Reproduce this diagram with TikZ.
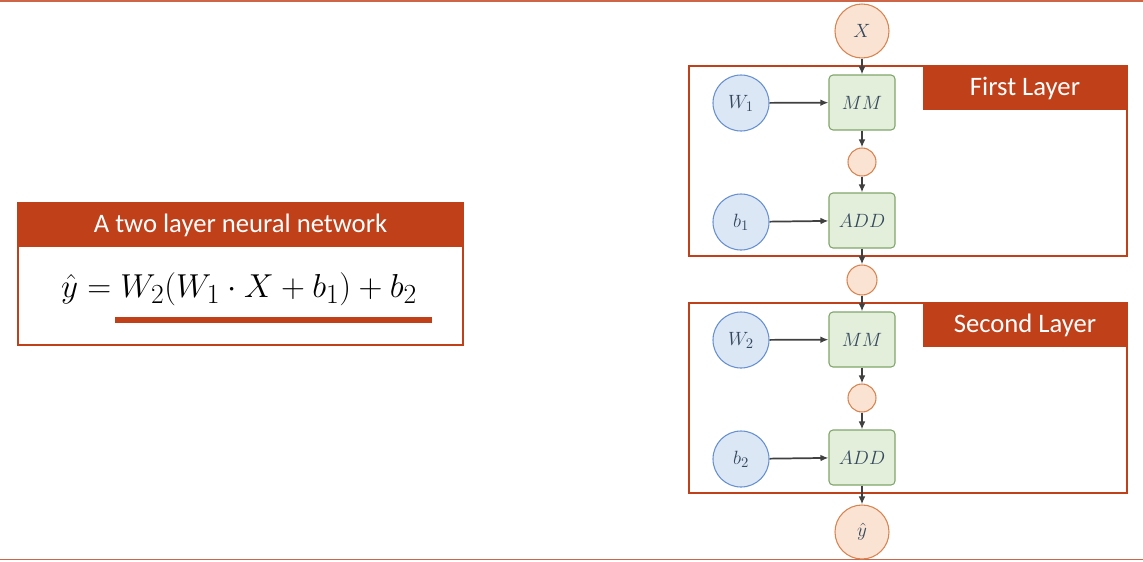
\documentclass[tikz,border=0pt]{standalone}
\usepackage{fontspec}
\setmainfont{Carlito}
\usetikzlibrary{arrows.meta}
\definecolor{org}{HTML}{C0401A}
\definecolor{peach}{HTML}{FBE3D3}
\definecolor{peachb}{HTML}{D9834F}
\definecolor{lblue}{HTML}{DCE7F6}
\definecolor{bblue}{HTML}{6690D0}
\definecolor{lgreen}{HTML}{E3EFDA}
\definecolor{bgreen}{HTML}{7FA66A}
\definecolor{txt}{HTML}{34495E}
\begin{document}
\begin{tikzpicture}[x=0.75pt,y=-0.75pt,
 pc/.style={circle,draw=peachb,fill=peach,line width=0.8pt,minimum size=#1*1.5pt,inner sep=0pt,text=txt,font=\fontsize{15}{18}\selectfont},
 bc/.style={circle,draw=bblue,fill=lblue,line width=0.8pt,minimum size=56*0.75pt,inner sep=0pt,text=txt,font=\fontsize{15}{18}\selectfont},
 gb/.style={rectangle,rounded corners=3pt,draw=bgreen,fill=lgreen,line width=0.8pt,minimum width=66*0.75pt,minimum height=55*0.75pt,inner sep=0pt,text=txt,font=\fontsize{15}{18}\selectfont},
 ar/.style={-{Latex[length=6pt,width=5pt]},line width=1.3pt,draw=black!75},
 lay/.style={draw=org,line width=1.6pt},
 bar/.style={fill=org,text=white,font=\fontsize{20}{24}\selectfont,inner sep=0pt}]
\useasboundingbox (0,0) rectangle (1143,561);
\draw[org!80,line width=0.8pt] (0,1) -- (1143,1);
\draw[org!80,line width=0.8pt] (0,559.5) -- (1143,559.5);
% left box
\draw[org,line width=1pt] (18,203) rectangle (463,345);
\fill[org] (18,203) rectangle (463,247);
\node[text=white,font=\fontsize{20}{24}\selectfont] (title) at (240.5,225) {A two layer neural network};
\node[font=\fontsize{29}{34}\selectfont] (eq) at (239,289) {$\hat{y}=W_2(W_1\cdot X+b_1)+b_2$};
\draw[org,line width=4pt] (115,320) -- (432,320);
% layers
\draw[lay] (689,66) rectangle (1127,256);
\fill[org] (923,66) rectangle (1127,110);
\node[bar] (l1) at (1025,88) {First Layer};
\draw[lay] (689,303) rectangle (1127,493);
\fill[org] (923,303) rectangle (1127,347);
\node[bar] (l2) at (1025,325) {Second Layer};
% nodes
\node[pc=27] (x) at (862,31) {$X$};
\node[bc] (w1) at (741,103) {$W_1$};
\node[gb] (mm1) at (862,102.5) {$MM$};
\node[pc=14] (c1) at (862,162) {};
\node[bc] (b1) at (741,222) {$b_1$};
\node[gb] (add1) at (862,220.5) {$ADD$};
\node[pc=15] (c2) at (862,280) {};
\node[bc] (w2) at (741,340) {$W_2$};
\node[gb] (mm2) at (862,339.5) {$MM$};
\node[pc=14] (c3) at (862,398) {};
\node[bc] (b2) at (741,459) {$b_2$};
\node[gb] (add2) at (862,457.5) {$ADD$};
\node[pc=27] (y) at (862,532) {$\hat{y}$};
\draw[ar] (x) -- (mm1);
\draw[ar] (w1) -- (mm1);
\draw[ar] (mm1) -- (c1);
\draw[ar] (c1) -- (add1);
\draw[ar] (b1) -- (add1);
\draw[ar] (add1) -- (c2);
\draw[ar] (c2) -- (mm2);
\draw[ar] (w2) -- (mm2);
\draw[ar] (mm2) -- (c3);
\draw[ar] (c3) -- (add2);
\draw[ar] (b2) -- (add2);
\draw[ar] (add2) -- (y);
\end{tikzpicture}
\end{document}
